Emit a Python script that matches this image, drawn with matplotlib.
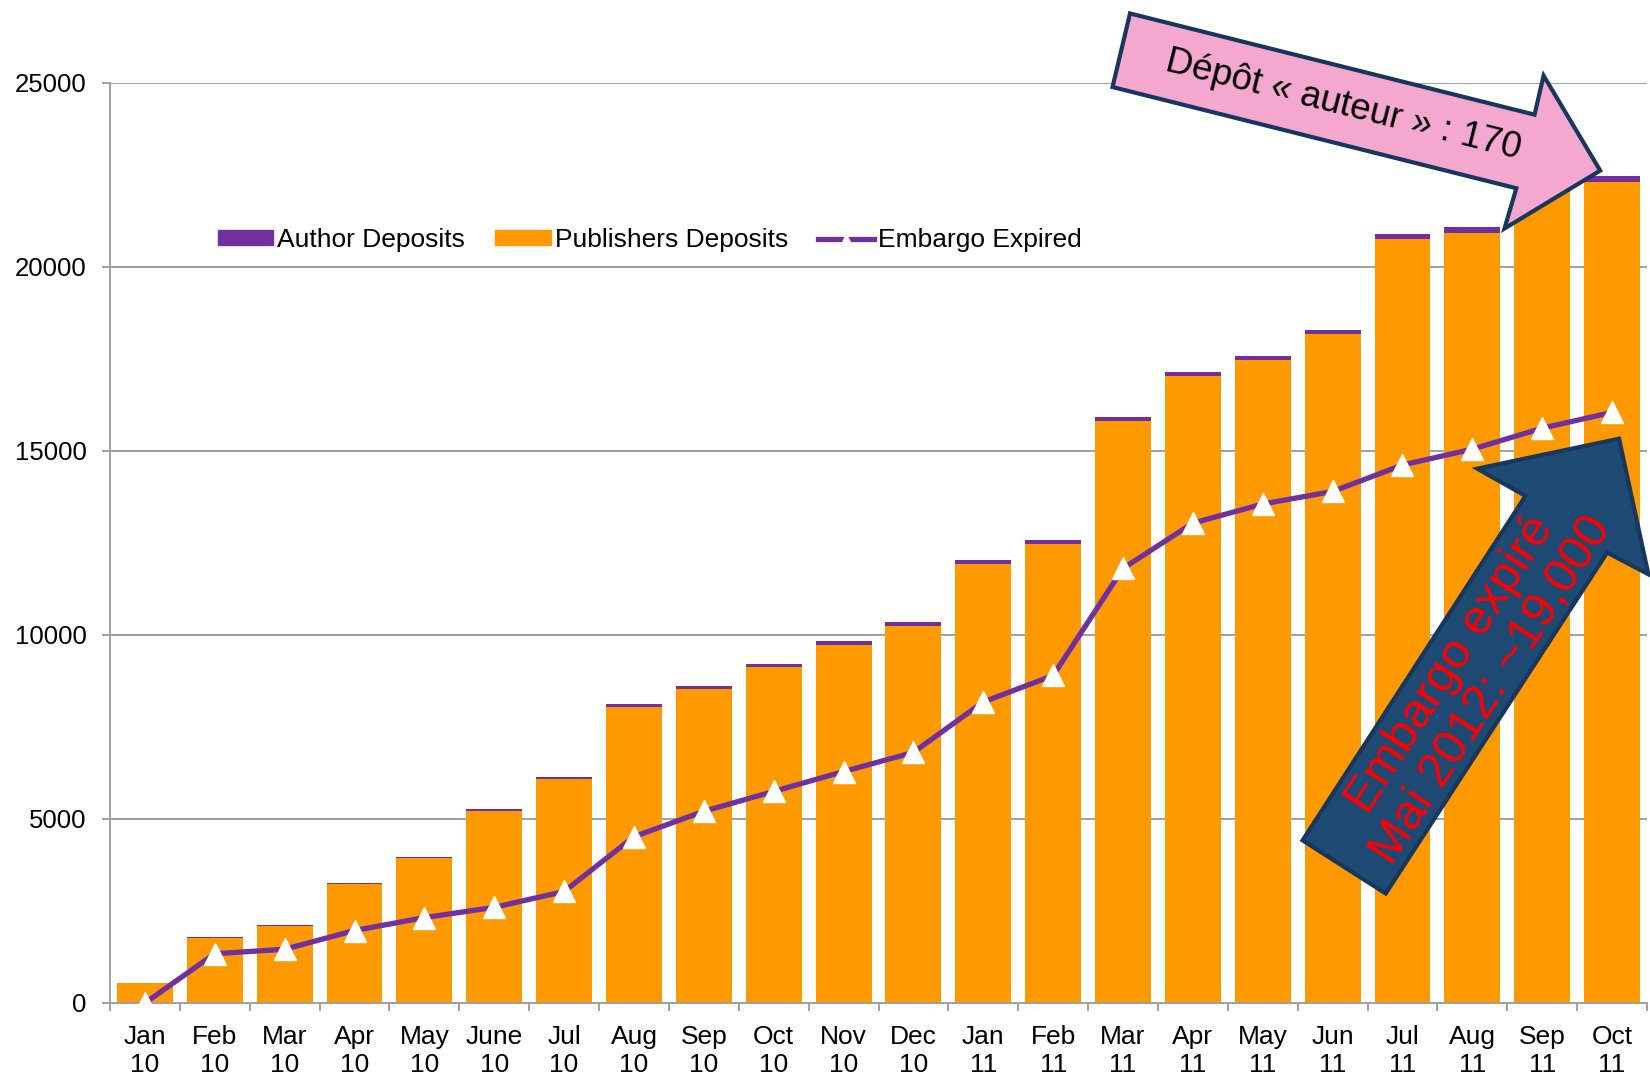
import numpy as np
import matplotlib
matplotlib.use("Agg")
import matplotlib.pyplot as plt
from matplotlib.patches import Polygon, Patch
from matplotlib.lines import Line2D

plt.rcParams['font.family'] = ['Liberation Sans', 'DejaVu Sans']

months = ["Jan\n10", "Feb\n10", "Mar\n10", "Apr\n10", "May\n10", "June\n10",
          "Jul\n10", "Aug\n10", "Sep\n10", "Oct\n10", "Nov\n10", "Dec\n10",
          "Jan\n11", "Feb\n11", "Mar\n11", "Apr\n11", "May\n11", "Jun\n11",
          "Jul\n11", "Aug\n11", "Sep\n11", "Oct\n11"]

publishers = [550, 1775, 2095, 3225, 3930, 5210, 6090, 8050, 8535, 9130, 9740,
              10255, 11940, 12475, 15820, 17040, 17465, 18170, 20750, 20930,
              22040, 22310]
authors = [0, 5, 25, 35, 45, 50, 60, 70, 75, 80, 90, 95, 100, 105, 110, 120,
           125, 130, 140, 150, 160, 170]
embargo = [0, 1340, 1460, 1970, 2320, 2600, 3030, 4520, 5210, 5750, 6290, 6810,
           8180, 8900, 11810, 13040, 13560, 13900, 14620, 15050, 15620, 16050]

ORANGE = '#FF9900'
PURPLE = '#7030A0'
GRID = '#A0A0A0'

fig = plt.figure(figsize=(16.5, 10.77), dpi=100)
ax = fig.add_axes([110 / 1650, 74 / 1077, 1537 / 1650, 920 / 1077])

x = np.arange(len(months))
ax.bar(x, publishers, width=0.8, color=ORANGE, zorder=2)
ax.bar(x, authors, width=0.8, bottom=publishers, color=PURPLE, zorder=2)
ax.plot(x, embargo, color=PURPLE, lw=3.8, marker='^', ms=15.5,
        mfc='white', mec='white', mew=1, zorder=3)

ax.set_xlim(-0.5, len(months) - 0.5)
ax.set_ylim(0, 25000)
ax.set_yticks(np.arange(0, 25001, 5000))
ax.yaxis.grid(True, color=GRID, lw=1.4, zorder=0)
ax.set_axisbelow(True)

# boundary ticks, labels in the middle of each category
ax.set_xticks(np.arange(-0.5, len(months), 1))
ax.set_xticklabels([])
ax.set_xticks(x, minor=True)
ax.set_xticklabels(months, minor=True, fontsize=19, linespacing=1.2)
ax.tick_params(axis='x', which='major', length=6, width=1.4, color=GRID)
ax.tick_params(axis='x', which='minor', length=0, pad=16)
ax.tick_params(axis='y', length=6, width=1.4, color=GRID, labelsize=18.5, pad=11)

for s in ['top', 'right']:
    ax.spines[s].set_visible(False)
for s in ['left', 'bottom']:
    ax.spines[s].set_color(GRID)
    ax.spines[s].set_linewidth(1.4)

handles = [Patch(color=PURPLE, label='Author Deposits'),
           Patch(color=ORANGE, label='Publishers Deposits'),
           Line2D([], [], color=PURPLE, lw=3.8, marker='^', ms=7, mfc='white',
                  mec='white', label='Embargo Expired')]
ax.legend(handles=handles, ncol=3, frameon=False, fontsize=19,
          loc='center left', bbox_to_anchor=(0.07, 0.829), borderpad=0,
          borderaxespad=0, handlelength=2.1, handleheight=0.5,
          handletextpad=0.15, columnspacing=1.15)


def angle_of(p0, p1):
    a, b = ax.transData.transform([p0, p1])
    return np.degrees(np.arctan2(b[1] - a[1], b[0] - a[0]))


# pink "auteur" arrow
pink = [(14.10, 26890), (19.89, 24140), (20.02, 25200), (20.83, 22620),
        (19.46, 21045), (19.63, 22140), (13.85, 24890)]
ax.add_patch(Polygon(pink, closed=True, fc='#F4A8D0', ec='#17375E', lw=3,
                     joinstyle='miter', clip_on=False, zorder=5))
rot = angle_of((13.97, 25890), (19.76, 23140))
ax.text(17.15, 24400, "Dépôt « auteur » : 170", rotation=rot,
        rotation_mode='anchor', ha='center', va='center', fontsize=26.5,
        color='black', zorder=6)

# blue embargo arrow
blue = [(16.57, 4420), (19.76, 13780), (19.07, 14520), (21.10, 15335),
        (21.52, 11650), (20.93, 12240), (17.76, 2975)]
ax.add_patch(Polygon(blue, closed=True, fc='#1F4A73', ec='#17375E', lw=3,
                     joinstyle='miter', clip_on=False, zorder=5))
rot = angle_of((17.17, 3700), (20.35, 13010))
ax.text(18.98, 8850, "Embargo expiré\nMai 2012: ~19,000", rotation=rot,
        rotation_mode='anchor', ha='center', va='center', fontsize=35,
        color='#FF0000', linespacing=1.1, multialignment='center', zorder=6)

fig.savefig('out.png', dpi=100)
